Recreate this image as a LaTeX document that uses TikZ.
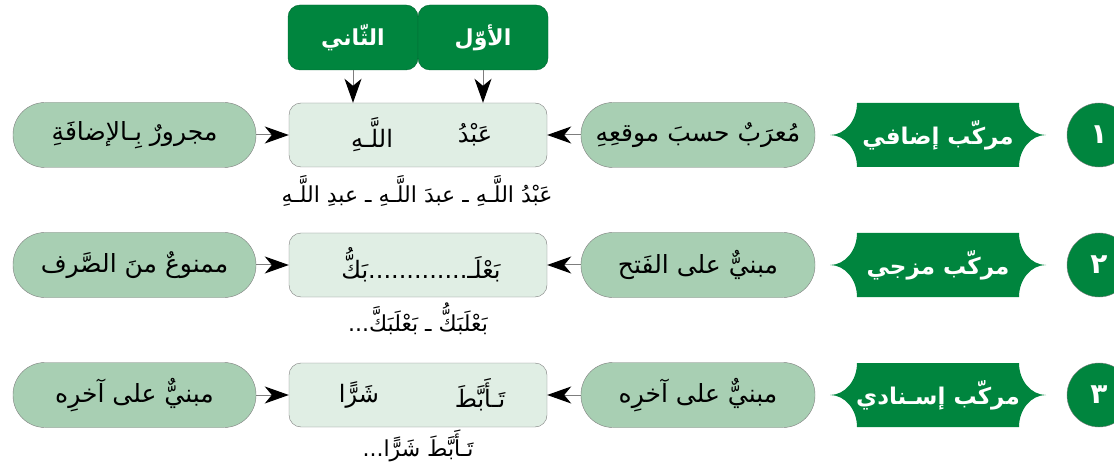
\documentclass[tikz,border=0pt]{standalone}
\usepackage{fontspec}
\setmainfont{DejaVu Sans}
\newfontfamily\arabicfont[Script=Arabic]{DejaVu Sans}
\TeXXeTstate=1
\usetikzlibrary{positioning, arrows.meta}
\definecolor{darkgreen}{RGB}{0,133,62}
\definecolor{pillgreen}{RGB}{168,207,179}
\definecolor{lightgreen}{RGB}{224,238,228}
\definecolor{edgegray}{RGB}{125,125,125}

\begin{document}
\begin{tikzpicture}[x=1pt, y=-1pt,
  head/.style={fill=darkgreen, draw=darkgreen!75!black, rounded corners=12pt, minimum width=130pt, minimum height=65pt, text=white, font=\arabicfont\bfseries\fontsize{22}{26}\selectfont},
  core/.style={fill=lightgreen, draw=edgegray, rounded corners=12pt, minimum width=258pt, minimum height=64pt},
  pill/.style={fill=pillgreen, draw=edgegray, rounded corners=32pt, minimum height=65pt, font=\arabicfont\fontsize{25}{28}\selectfont},
  word/.style={font=\arabicfont\fontsize{24}{28}\selectfont},
  subword/.style={font=\arabicfont\fontsize{22}{26}\selectfont},
  num/.style={circle, fill=darkgreen, draw=edgegray, minimum size=64pt, text=white, font=\arabicfont\bfseries\fontsize{28}{32}\selectfont},
  kind/.style={text=white, font=\arabicfont\bfseries\fontsize{23}{27}\selectfont},
  arr/.style={draw=edgegray, line width=1pt, -{Stealth[length=24pt, width=17pt, inset=7pt, black]}},
  badge/.pic={\fill[darkgreen] (-81,-32) -- (81,-32) .. controls (81,-14.3) and (93.1,0) .. (108,0)
      .. controls (93.1,0) and (81,14.3) .. (81,32) -- (-81,32) .. controls (-81,14.3) and (-93.1,0) .. (-108,0)
      .. controls (-93.1,0) and (-81,-14.3) .. cycle;}]
  \clip (0,0) rectangle (1114,465);

  % column heads
  \node[head] (second) at (353,37.5) {\beginR الثّاني\endR};
  \node[head] (first) at (483,37.5) {\beginR الأوّل\endR};

  % row 1
  \node[num] (n1) at (1099,135) {\beginR ١\endR};
  \pic at (938,135) {badge};
  \node[kind] (k1) at (938,135) {\beginR مركّب إضافي\endR};
  \node[pill, minimum width=234pt] (r1) at (698,135) {\beginR مُعرَبٌ حسبَ موقعِهِ\endR};
  \node[core] (m1) at (418,135) {};
  \node[word] (m1a) at (475,135) {\beginR عَبْدُ\endR};
  \node[word] (m1b) at (372,135) {\beginR اللَّـهِ\endR};
  \node[pill, minimum width=243pt] (l1) at (134.5,135) {\beginR مجرورٌ بِـالإضافَةِ\endR};
  \node[subword] (s1) at (417,191) {\beginR عَبْدُ اللَّـهِ ـ عبدَ اللَّـهِ ـ عبدِ اللَّـهِ\endR};

  % row 2
  \node[num] (n2) at (1099,265) {\beginR ٢\endR};
  \pic at (938,265) {badge};
  \node[kind] (k2) at (938,265) {\beginR مركّب مزجي\endR};
  \node[pill, minimum width=234pt] (r2) at (698,265) {\beginR مبنيٌّ على الفَتح\endR};
  \node[core] (m2) at (418,265) {};
  \node[word] (m2a) at (421,265) {\beginR بَعْلَـ.............بَكُّ\endR};
  \node[pill, minimum width=243pt] (l2) at (134.5,265) {\beginR ممنوعٌ منَ الصَّرف\endR};
  \node[subword] (s2) at (418,319) {\beginR بَعْلَبَكُّ ـ بَعْلَبَكَّ...\endR};

  % row 3
  \node[num] (n3) at (1099,395) {\beginR ٣\endR};
  \pic at (938,395) {badge};
  \node[kind] (k3) at (938,395) {\beginR مركّب إسـنادي\endR};
  \node[pill, minimum width=234pt] (r3) at (698,395) {\beginR مبنيٌّ على آخرِه\endR};
  \node[core] (m3) at (418,395) {};
  \node[word] (m3a) at (480,395) {\beginR تَـأَبَّطَ\endR};
  \node[word] (m3b) at (359,395) {\beginR شَرًّا\endR};
  \node[pill, minimum width=243pt] (l3) at (134.5,395) {\beginR مبنيٌّ على آخرِه\endR};
  \node[subword] (s3) at (418,446) {\beginR تَـأَبَّطَ شَرًّا...\endR};

  % arrows
  \draw[arr] (first) -- (first |- m1.north);
  \draw[arr] (second) -- (second |- m1.north);
  \draw[arr] (r1) -- (m1);  \draw[arr] (l1) -- (m1);
  \draw[arr] (r2) -- (m2);  \draw[arr] (l2) -- (m2);
  \draw[arr] (r3) -- (m3);  \draw[arr] (l3) -- (m3);

\end{tikzpicture}
\end{document}
